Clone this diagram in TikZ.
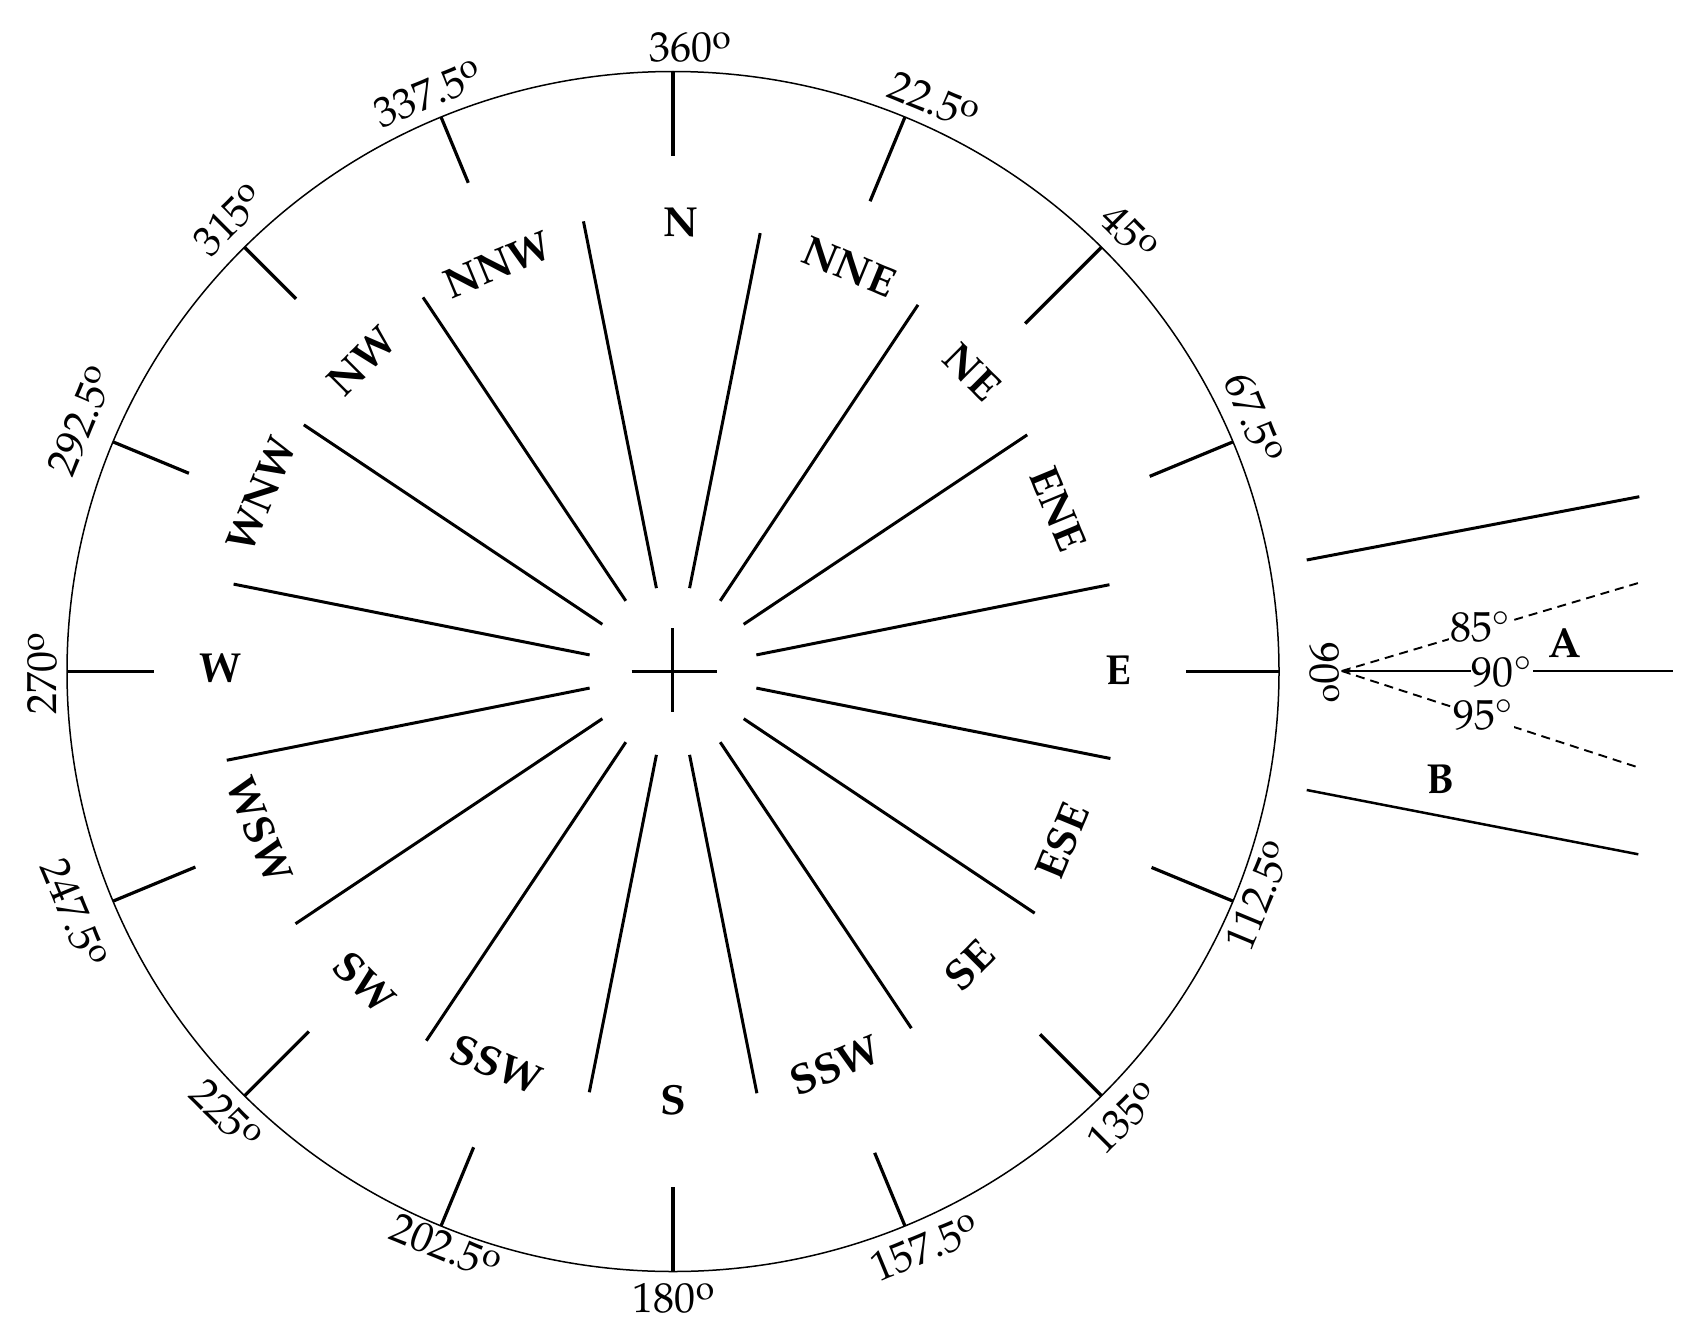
\documentclass[tikz,border=0pt]{standalone}
\usepackage[T1]{fontenc}
\usepackage{mathpazo}
\usepackage{graphicx}
\usetikzlibrary{calc,arrows.meta}
\newcommand\dgo{\raisebox{0.3em}{\scalebox{0.8}{o}}}
\tikzset{
  spoke/.style={line width=3pt},
  tickline/.style={line width=3.2pt},
  rim/.style={line width=1.5pt},
  cmp/.style={font=\fontsize{42}{42}\selectfont\bfseries, inner sep=0pt},
  deg/.style={font=\fontsize{42}{42}\selectfont, inner sep=0pt},
  lab/.style={font=\fontsize{42}{42}\selectfont, inner sep=1pt, fill=white},
  dashline/.style={line width=1.9pt, dash pattern=on 9pt off 6pt},
}
\begin{document}
\begin{tikzpicture}[x=1pt,y=-1pt]
\useasboundingbox[fill=white] (0,0) rectangle (1702,1338);
\coordinate (c) at (673,671.5);
\draw[rim] (c) ellipse [x radius=606, y radius=600];
% ticks
\foreach \b/\L in {0/84,22.5/91,45/108,67.5/90,90/93,112.5/88,135/87,157.5/79,180/85,202.5/85,225/91,247.5/89,270/87,292.5/82,315/73,337.5/71}
  \draw[tickline] ({673+606*sin(\b)},{671.5-600*cos(\b)}) -- ({673+(606-\L)*sin(\b)},{671.5-(600-\L)*cos(\b)});
% spokes
\foreach \b/\R in {11.25/447,33.75/441,56.25/426,78.75/445,101.25/446,123.75/435,146.25/429,168.75/430,191.25/429,213.75/444,236.25/454,258.75/455,281.25/448,303.75/444,326.25/450,348.75/459}
  \draw[spoke] ({673+85*sin(\b)},{671.5-85*cos(\b)}) -- ({673+\R*sin(\b)},{671.5-\R*cos(\b)});
% centre cross
\coordinate (cl) at (631.7,671); \coordinate (cr) at (716.7,671);
\coordinate (ct) at (672.7,628); \coordinate (cb) at (672.7,712);
\draw[spoke] (cl) -- (cr);
\draw[spoke] (ct) -- (cb);
% compass labels
\node[cmp] (lN)   at (680.6,222.5) {N};
\node[cmp, rotate=-22.5] (lNNE) at (849,267) {NNE};
\node[cmp, rotate=-45]   (lNE)  at (972,372) {NE};
\node[cmp, rotate=-67.5] (lENE) at (1058,509) {ENE};
\node[cmp] (lE)   at (1118,671) {E};
\node[cmp, rotate=67.5]  (lESE) at (1062,841) {ESE};
\node[cmp, rotate=45]    (lSE)  at (969,965) {SE};
\node[cmp, rotate=22.5]  (lSSE) at (835,1065) {SSW};
\node[cmp] (lS)   at (673,1100) {S};
\node[cmp, rotate=-22.5] (lSSW) at (496.5,1064) {SSW};
\node[cmp, rotate=-45]   (lSW)  at (364.5,982) {SW};
\node[cmp, rotate=-67.5] (lWSW) at (259.5,830) {WSW};
\node[cmp] (lW)   at (220,668) {W};
\node[cmp, rotate=67.5]  (lWNW) at (261,494) {WNW};
\node[cmp, rotate=45]    (lNW)  at (361.5,361) {NW};
\node[cmp, rotate=22.5]  (lNNW) at (497.5,264.5) {NNW};
% degree labels
\node[deg] (d0)   at (690,47) {360\dgo};
\node[deg, rotate=-22.5] (d1) at (933.5,101) {22.5\dgo};
\node[deg, rotate=-45]   (d2) at (1129,233) {45\dgo};
\node[deg, rotate=-67.5] (d3) at (1254,418) {67.5\dgo};
\node[deg, rotate=-90]   (d4) at (1325,673) {90\dgo};
\node[deg, rotate=67.5]  (d5) at (1259,896) {112.5\dgo};
\node[deg, rotate=45]    (d6) at (1123.5,1118) {135\dgo};
\node[deg, rotate=22.5]  (d7) at (925,1248) {157.5\dgo};
\node[deg] (d8) at (673.5,1298) {180\dgo};
\node[deg, rotate=-22.5] (d9) at (445.5,1247) {202.5\dgo};
\node[deg, rotate=-45]   (d10) at (226,1115) {225\dgo};
\node[deg, rotate=-67.5] (d11) at (74,913) {247.5\dgo};
\node[deg, rotate=90]    (d12) at (42,674) {270\dgo};
\node[deg, rotate=67.5]  (d13) at (81,421) {292.5\dgo};
\node[deg, rotate=45]    (d14) at (229,220) {315\dgo};
\node[deg, rotate=22.5]  (d15) at (428,94) {337.5\dgo};
% right-hand detail
\coordinate (apex) at (1341.7,671);
\coordinate (ua) at (1306.7,560); \coordinate (ub) at (1639.3,496.7);
\coordinate (la) at (1306.7,790); \coordinate (lb) at (1638.3,854.3);
\coordinate (d85) at (1639.3,582.7);
\coordinate (d95) at (1636,766.7);
\coordinate (m90) at (1672.7,671);
\draw[line width=3pt] (ua) -- (ub);
\draw[line width=2.5pt] (la) -- (lb);
\draw[dashline] (apex) -- (d85);
\draw[dashline] (apex) -- (d95);
\draw[line width=2.5pt, -{Stealth[length=9pt,width=7pt]}] (m90) -- (apex);
\node[lab] (t85) at (1480,626.7) {85$^\circ$};
\node[lab] (t95) at (1483.3,715) {95$^\circ$};
\node[lab] (t90) at (1501.7,671.7) {90$^\circ$};
\node[cmp] (tA) at (1565,643.3) {A};
\node[cmp] (tB) at (1440,780) {B};
\end{tikzpicture}
\end{document}
